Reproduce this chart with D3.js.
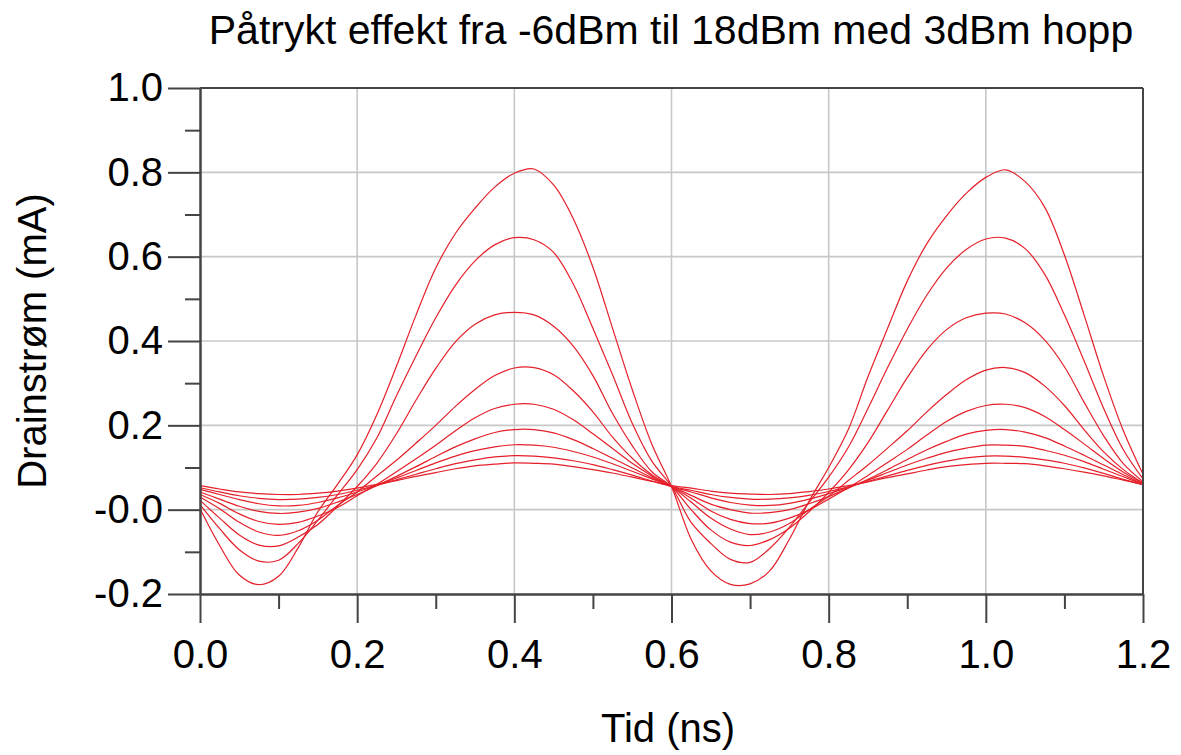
<!DOCTYPE html>
<html><head><meta charset="utf-8">
<script src="https://cdn.jsdelivr.net/npm/d3@7"></script>
<style>html,body{margin:0;padding:0;background:#fff;} svg{display:block;}</style>
</head><body>
<svg id="chart" width="1181" height="755"></svg>
<script>
const titleText = "Påtrykt effekt fra -6dBm til 18dBm med 3dBm hopp";
const xLabel = "Tid (ns)";
const yLabel = "Drainstrøm (mA)";
const xTickValues = [0.0, 0.2, 0.4, 0.6, 0.8, 1.0, 1.2];
const xTickLabels = ["0.0", "0.2", "0.4", "0.6", "0.8", "1.0", "1.2"];
const xMinorTicks = [0.1, 0.3, 0.5, 0.7, 0.9, 1.1];
const yTickValues = [-0.2, 0.0, 0.2, 0.4, 0.6, 0.8, 1.0];
const yTickLabels = ["-0.2", "-0.0", "0.2", "0.4", "0.6", "0.8", "1.0"];
const yMinorTicks = [-0.1, 0.1, 0.3, 0.5, 0.7, 0.9];

const time = [0.000, 0.025, 0.050, 0.075, 0.100, 0.125, 0.150, 0.175, 0.200, 0.225, 0.250, 0.275, 0.300,
  0.325, 0.350, 0.375, 0.400, 0.425, 0.450, 0.475, 0.500, 0.525, 0.550, 0.575, 0.600,
  0.625, 0.650, 0.675, 0.700, 0.725, 0.750, 0.775, 0.800, 0.825, 0.850, 0.875, 0.900,
  0.925, 0.950, 0.975, 1.000, 1.025, 1.050, 1.075, 1.100, 1.125, 1.150, 1.175, 1.200];

const seriesNames = ["-6dBm", "-3dBm", "0dBm", "3dBm", "6dBm", "9dBm", "12dBm", "15dBm", "18dBm"];

const pm6 = [0.057, 0.049, 0.042, 0.038, 0.036, 0.036, 0.039, 0.044, 0.051, 0.06, 0.069, 0.079, 0.088, 0.097, 0.104, 0.108, 0.111, 0.11, 0.108, 0.102, 0.095, 0.087, 0.077, 0.067, 0.057,
  0.051, 0.044, 0.039, 0.037, 0.036, 0.038, 0.043, 0.049, 0.057, 0.066, 0.076, 0.085, 0.094, 0.102, 0.107, 0.11, 0.11, 0.109, 0.104, 0.097, 0.089, 0.08, 0.07, 0.06];
const pm3 = [0.052, 0.042, 0.033, 0.027, 0.024, 0.025, 0.029, 0.036, 0.046, 0.058, 0.071, 0.084, 0.097, 0.109, 0.118, 0.125, 0.128, 0.127, 0.123, 0.116, 0.107, 0.095, 0.082, 0.068, 0.055,
  0.046, 0.036, 0.029, 0.025, 0.025, 0.028, 0.034, 0.043, 0.054, 0.067, 0.08, 0.093, 0.105, 0.115, 0.123, 0.127, 0.127, 0.124, 0.118, 0.11, 0.099, 0.086, 0.072, 0.059];
const p0 = [0.048, 0.036, 0.024, 0.014, 0.009, 0.01, 0.017, 0.028, 0.042, 0.058, 0.075, 0.093, 0.111, 0.127, 0.14, 0.149, 0.154, 0.153, 0.148, 0.138, 0.125, 0.109, 0.091, 0.073, 0.055,
  0.042, 0.028, 0.017, 0.011, 0.01, 0.015, 0.025, 0.038, 0.053, 0.07, 0.088, 0.106, 0.122, 0.136, 0.146, 0.153, 0.153, 0.15, 0.141, 0.129, 0.114, 0.096, 0.078, 0.06];
const p3 = [0.042, 0.025, 0.008, -0.004, -0.009, -0.006, 0.003, 0.018, 0.036, 0.057, 0.079, 0.102, 0.126, 0.149, 0.168, 0.183, 0.19, 0.19, 0.182, 0.166, 0.145, 0.122, 0.099, 0.076, 0.055,
  0.034, 0.013, 0.0, -0.008, -0.007, 0.0, 0.014, 0.031, 0.051, 0.072, 0.095, 0.119, 0.142, 0.162, 0.179, 0.188, 0.19, 0.184, 0.171, 0.151, 0.129, 0.106, 0.083, 0.061];
const p6 = [0.036, 0.015, -0.01, -0.028, -0.035, -0.03, -0.015, 0.005, 0.033, 0.06, 0.09, 0.121, 0.153, 0.187, 0.218, 0.24, 0.25, 0.25, 0.238, 0.213, 0.18, 0.145, 0.11, 0.08, 0.055,
  0.027, -0.003, -0.023, -0.033, -0.032, -0.02, -0.001, 0.025, 0.052, 0.081, 0.112, 0.143, 0.177, 0.209, 0.233, 0.247, 0.25, 0.242, 0.221, 0.19, 0.156, 0.121, 0.089, 0.063];
const p9 = [0.03, 0.002, -0.03, -0.053, -0.061, -0.05, -0.025, 0.01, 0.042, 0.08, 0.117, 0.158, 0.2, 0.245, 0.285, 0.318, 0.336, 0.337, 0.32, 0.282, 0.232, 0.172, 0.122, 0.083, 0.055,
  0.018, -0.02, -0.046, -0.059, -0.053, -0.033, 0.0, 0.032, 0.069, 0.106, 0.146, 0.187, 0.232, 0.273, 0.308, 0.331, 0.337, 0.325, 0.293, 0.247, 0.19, 0.137, 0.095, 0.063];
const p12 = [0.022, -0.02, -0.06, -0.084, -0.086, -0.065, -0.035, 0.008, 0.055, 0.11, 0.18, 0.26, 0.335, 0.398, 0.44, 0.462, 0.468, 0.462, 0.435, 0.388, 0.318, 0.228, 0.152, 0.09, 0.055,
  0.0, -0.048, -0.077, -0.085, -0.071, -0.044, -0.005, 0.041, 0.094, 0.159, 0.236, 0.313, 0.379, 0.427, 0.455, 0.466, 0.464, 0.443, 0.402, 0.339, 0.255, 0.175, 0.109, 0.066];
const p15 = [0.012, -0.045, -0.095, -0.122, -0.12, -0.08, -0.025, 0.035, 0.095, 0.17, 0.27, 0.365, 0.455, 0.532, 0.59, 0.628, 0.645, 0.64, 0.61, 0.535, 0.43, 0.32, 0.205, 0.115, 0.055,
  -0.03, -0.08, -0.118, -0.125, -0.092, -0.042, 0.017, 0.077, 0.148, 0.24, 0.337, 0.428, 0.509, 0.573, 0.617, 0.642, 0.644, 0.619, 0.558, 0.462, 0.353, 0.24, 0.142, 0.073];
const p18 = [0.002, -0.085, -0.155, -0.178, -0.158, -0.09, -0.005, 0.06, 0.13, 0.225, 0.34, 0.462, 0.573, 0.655, 0.715, 0.765, 0.798, 0.808, 0.77, 0.69, 0.575, 0.43, 0.285, 0.155, 0.055,
  -0.07, -0.145, -0.177, -0.176, -0.145, -0.07, 0.02, 0.1, 0.19, 0.315, 0.43, 0.542, 0.631, 0.697, 0.75, 0.788, 0.806, 0.778, 0.717, 0.604, 0.462, 0.316, 0.187, 0.084];

const seriesValues = [pm6, pm3, p0, p3, p6, p9, p12, p15, p18];

const FONT = "'Liberation Sans', Arial, sans-serif";
const svg = d3.select("#chart");
const x = d3.scaleLinear().domain([0, 1.2]).range([200, 1143]);
const y = d3.scaleLinear().domain([-0.2, 1.0]).range([594, 88]);
const frameColor = "#444";
const gridColor = "#c8c8c8";

// grid
const grid = svg.append("g");
grid.selectAll("line.vx").data(xTickValues.filter(v => v > 0 && v < 1.2)).join("line")
  .attr("x1", d => x(d)).attr("x2", d => x(d)).attr("y1", y(1.0)).attr("y2", y(-0.2))
  .attr("stroke", gridColor).attr("stroke-width", 1.6);
grid.selectAll("line.hy").data(yTickValues.filter(v => v > -0.2 && v < 1.0)).join("line")
  .attr("x1", x(0)).attr("x2", x(1.2)).attr("y1", d => y(d)).attr("y2", d => y(d))
  .attr("stroke", gridColor).attr("stroke-width", 1.6);

// curves
const line = d3.line().x((d, i) => x(time[i])).y(d => y(d)).curve(d3.curveCatmullRom.alpha(0.5));
svg.append("g").selectAll("path").data(seriesValues).join("path")
  .attr("d", d => line(d))
  .attr("fill", "none").attr("stroke", "#e5202a").attr("stroke-width", 1.2)
  .attr("data-name", (d, i) => seriesNames[i]);

// axes
function styleAxis(g) {
  g.selectAll("path.domain").attr("stroke", frameColor).attr("stroke-width", 2);
  g.selectAll(".tick line").attr("stroke", frameColor).attr("stroke-width", 2);
  g.selectAll("text").attr("font-family", FONT).attr("font-size", 40).attr("fill", "#000");
}
svg.append("g").attr("transform", "translate(0,594)")
  .call(d3.axisBottom(x).tickValues(xMinorTicks).tickSize(15).tickSizeOuter(0).tickFormat(""))
  .call(styleAxis);
svg.append("g").attr("transform", "translate(0,594)")
  .call(d3.axisBottom(x).tickValues(xTickValues).tickSize(29).tickSizeOuter(0).tickPadding(17)
    .tickFormat((d, i) => xTickLabels[i]))
  .call(styleAxis);
svg.append("g").attr("transform", "translate(200,0)")
  .call(d3.axisLeft(y).tickValues(yMinorTicks).tickSize(15).tickSizeOuter(0).tickFormat(""))
  .call(styleAxis);
svg.append("g").attr("transform", "translate(200,0)")
  .call(d3.axisLeft(y).tickValues(yTickValues).tickSize(32).tickSizeOuter(0).tickPadding(5)
    .tickFormat((d, i) => yTickLabels[i]))
  .call(styleAxis);

// top and right frame
svg.append("line").attr("x1", x(0)).attr("x2", x(1.2)).attr("y1", y(1.0)).attr("y2", y(1.0))
  .attr("stroke", frameColor).attr("stroke-width", 2);
svg.append("line").attr("x1", x(1.2)).attr("x2", x(1.2)).attr("y1", y(1.0)).attr("y2", y(-0.2))
  .attr("stroke", frameColor).attr("stroke-width", 2);

// titles
svg.append("text").attr("x", 671).attr("y", 44).attr("text-anchor", "middle")
  .attr("font-family", FONT).attr("font-size", 41).text(titleText);
svg.append("text").attr("x", 668).attr("y", 742).attr("text-anchor", "middle")
  .attr("font-family", FONT).attr("font-size", 40).text(xLabel);
svg.append("text").attr("transform", "translate(46,341) rotate(-90)").attr("text-anchor", "middle")
  .attr("font-family", FONT).attr("font-size", 40).text(yLabel);
</script>
</body></html>
